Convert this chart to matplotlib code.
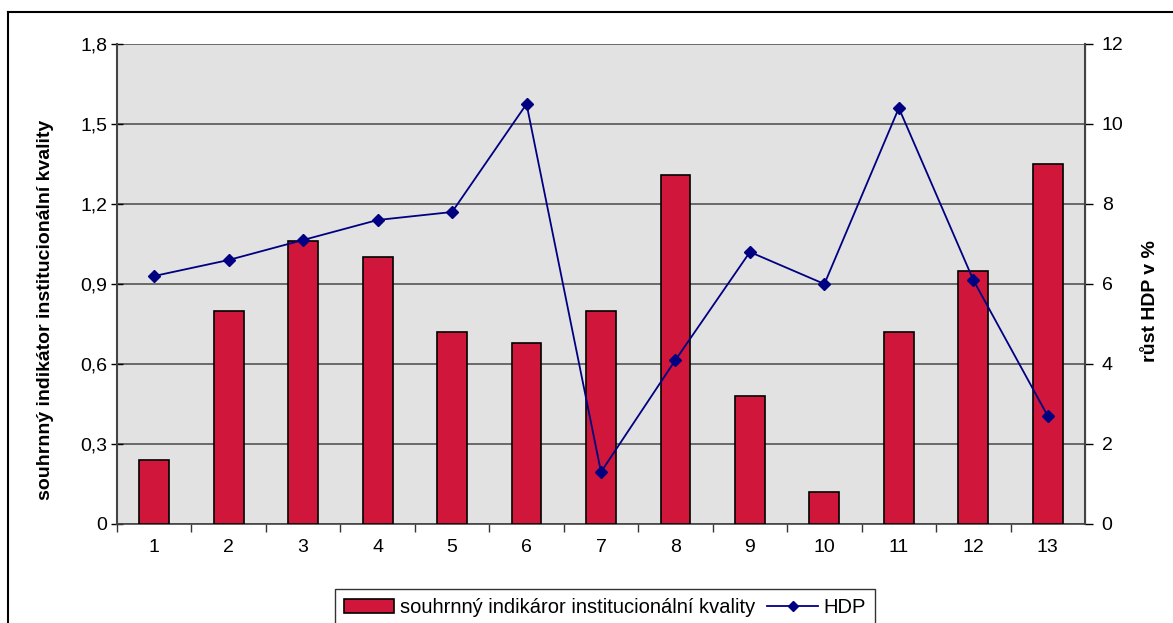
import matplotlib
matplotlib.use("Agg")
import matplotlib.pyplot as plt
from matplotlib.lines import Line2D
from matplotlib.patches import Patch
from matplotlib.ticker import FixedLocator, FuncFormatter

categories = [str(i) for i in range(1, 14)]
indicator = [0.24, 0.80, 1.06, 1.00, 0.72, 0.68, 0.80, 1.31, 0.48, 0.12, 0.72, 0.95, 1.35]
hdp = [6.2, 6.6, 7.1, 7.6, 7.8, 10.5, 1.3, 4.1, 6.8, 6.0, 10.4, 6.1, 2.7]
left_ticks = [0, 0.3, 0.6, 0.9, 1.2, 1.5, 1.8]
right_ticks = [0, 2, 4, 6, 8, 10, 12]

plt.rcParams['font.family'] = ['Liberation Sans', 'DejaVu Sans']

fig = plt.figure(figsize=(11.73, 6.23), dpi=100)
ax = fig.add_axes([117/1173, 1-524/623, (1085-117)/1173, (524-44)/623])
ax2 = ax.twinx()

x = list(range(len(categories)))
ax.set_facecolor('#e2e2e2')
ax.bar(x, indicator, width=0.4, color='#D0163A', edgecolor='black', linewidth=1.2, zorder=3)
ax.set_xlim(-0.5, len(categories) - 0.5)
ax.set_ylim(0, 1.8)
ax.yaxis.set_major_locator(FixedLocator(left_ticks))
ax.yaxis.set_major_formatter(FuncFormatter(lambda v, p: ('%g' % round(v, 1)).replace('.', ',')))
ax.grid(axis='y', color='#555555', linewidth=1.2, zorder=1)
ax.set_axisbelow(True)
ax.set_xticks(x)
ax.set_xticklabels(categories)
ax.set_xticks([i + 0.5 for i in x[:-1]] + [-0.5], minor=True)
ax.tick_params(axis='x', which='major', length=0, labelsize=14, pad=11)
ax.tick_params(axis='x', which='minor', length=6, width=1, color='#333333')
ax.tick_params(axis='y', labelsize=14, length=8, direction='inout', width=1, pad=3)
ax.spines['top'].set_visible(False)
ax.spines['left'].set_color('#444444')
ax.spines['left'].set_linewidth(1.5)
ax.spines['bottom'].set_color('#444444')
ax.spines['bottom'].set_linewidth(1.2)
ax.set_ylabel('souhrnný indikátor institucionální kvality', fontsize=14, fontweight='bold')
ax.yaxis.set_label_coords((54 - 117) / 968, (524 - 310) / 480)

ax2.plot(x, hdp, color='#000080', linewidth=1.3, marker='D', markersize=6, zorder=4)
ax2.set_ylim(0, 12)
ax2.yaxis.set_major_locator(FixedLocator(right_ticks))
ax2.tick_params(axis='y', labelsize=14, length=6, width=1, pad=6)
ax2.spines['right'].set_color('#444444')
ax2.spines['right'].set_linewidth(1.5)
ax2.spines['top'].set_visible(False)
ax2.spines['left'].set_visible(False)
ax2.spines['bottom'].set_visible(False)
ax2.set_ylabel('růst HDP v %', fontsize=14, fontweight='bold')
ax2.yaxis.set_label_coords((1142 - 117) / 968, (524 - 301) / 480)

# figure border (top and left visible)
fig.add_artist(Line2D([8/1173, 8/1173], [0, 1-12/623], color='black', linewidth=1.5, transform=fig.transFigure))
fig.add_artist(Line2D([8/1173, 1], [1-12/623, 1-12/623], color='black', linewidth=1.5, transform=fig.transFigure))

handles = [Patch(facecolor='#D0163A', edgecolor='black', linewidth=1.2),
           Line2D([], [], color='#000080', marker='D', markersize=5, linewidth=1.3)]
leg = fig.legend(handles, ['souhrnný indikáror institucionální kvality', 'HDP'],
                 loc='upper center', bbox_to_anchor=(605/1173, 1-589/623), ncol=2,
                 fontsize=14.5, frameon=True, fancybox=False, edgecolor='black',
                 handlelength=2.5, handletextpad=0.3, columnspacing=0.6, borderpad=0.45,
                 borderaxespad=0)
leg.get_frame().set_linewidth(1.0)

fig.savefig('out.png', dpi=100)
